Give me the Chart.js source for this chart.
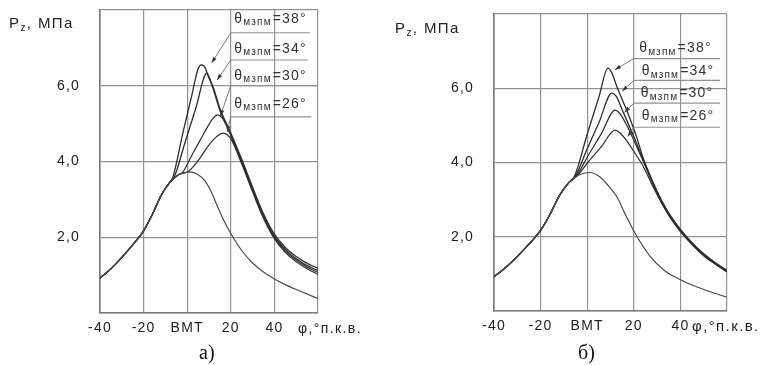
<!DOCTYPE html>
<html><head><meta charset="utf-8">
<script src="https://cdn.jsdelivr.net/npm/chart.js@4.4.1/dist/chart.umd.min.js"></script>
<style>
html,body{margin:0;padding:0;background:#fff;}
#wrap{position:relative;width:777px;height:365px;overflow:hidden;background:#fff;}
canvas{position:absolute;top:0;}
.cap{position:absolute;font-family:"Liberation Serif","Times New Roman",serif;font-size:20px;line-height:20px;color:#111;}
</style></head><body>
<div id="wrap">
<canvas id="ca" width="390" height="365" style="left:0"></canvas>
<canvas id="cb" width="387" height="365" style="left:390px"></canvas>
<div class="cap" style="left:199px;top:342px">а)</div>
<div class="cap" style="left:578px;top:342px">б)</div>
</div>
<script>
// ---- axes / labels ----
const xTicks = [-40, -20, 0, 20, 40, 60];
const xTickLabels = ['-40', '-20', 'ВМТ', '20', '40', ''];
const yTicks = [2, 4, 6];
const yTickLabels = ['2,0', '4,0', '6,0'];
const yTitleMain = 'P';
const yTitleSub = 'z';
const yTitleRest = ', МПа';
const xTitle = 'φ,°п.к.в.';
const seriesNames = ['38°', '34°', '30°', '26°'];
const thetaSub = 'мзпм';

// ---- chart а) ----
const aMotorPhi = [-40, -35, -30, -25, -20, -16, -12, -8, -4, 0, 2, 5, 8, 11, 14, 17, 20, 25, 30, 35, 40, 45, 50, 55, 60];
const aMotorP   = [0.92, 1.17, 1.47, 1.8, 2.17, 2.6, 3.1, 3.45, 3.65, 3.72, 3.72, 3.65, 3.5, 3.2, 2.8, 2.42, 2.1, 1.65, 1.32, 1.08, 0.9, 0.75, 0.62, 0.5, 0.38];

const a38Phi = [-40, -35, -30, -25, -20, -16, -12, -8, -6.5, -2, 2, 5, 6.5, 8, 10, 12, 15, 20, 25, 30, 35, 40, 45, 50, 55, 60];
const a38P   = [0.92, 1.17, 1.47, 1.8, 2.17, 2.6, 3.1, 3.45, 3.6, 4.75, 5.72, 6.45, 6.55, 6.5, 6.2, 5.95, 5.4, 4.75, 4.06, 3.32, 2.62, 2.08, 1.73, 1.49, 1.31, 1.18];

const a34Phi = [-40, -35, -30, -25, -20, -16, -12, -8, -6, -1, 4, 9, 12, 15, 20, 25, 30, 35, 40, 45, 50, 55, 60];
const a34P   = [0.92, 1.17, 1.47, 1.8, 2.17, 2.6, 3.1, 3.45, 3.58, 4.5, 5.42, 6.33, 5.9, 5.35, 4.7, 4.02, 3.28, 2.57, 2.03, 1.68, 1.43, 1.25, 1.12];

const a30Phi = [-40, -35, -30, -25, -20, -16, -12, -8, -4, -2, 2, 6, 10, 12, 14, 16, 18.7, 21, 25, 30, 35, 40, 45, 50, 55, 60];
const a30P   = [0.92, 1.17, 1.47, 1.8, 2.17, 2.6, 3.1, 3.45, 3.65, 3.72, 4.15, 4.57, 4.98, 5.15, 5.23, 5.15, 4.88, 4.55, 3.98, 3.24, 2.53, 1.99, 1.64, 1.39, 1.21, 1.07];

const a26Phi = [-40, -35, -30, -25, -20, -16, -12, -8, -4, 0, 3, 6, 9.5, 13, 16.4, 18.5, 20.5, 25, 30, 35, 40, 45, 50, 55, 60];
const a26P   = [0.92, 1.17, 1.47, 1.8, 2.17, 2.6, 3.1, 3.45, 3.65, 3.72, 3.88, 4.1, 4.4, 4.63, 4.75, 4.7, 4.55, 3.94, 3.2, 2.5, 1.96, 1.6, 1.35, 1.17, 1.02];

// ---- chart б) ----
const bMotorPhi = [-40, -35, -30, -25, -20, -16, -12, -8, -4, 1, 5.5, 9, 12.8, 16, 20.5, 27, 33, 39.8, 45, 50, 55, 60];
const bMotorP   = [0.92, 1.17, 1.47, 1.8, 2.17, 2.6, 3.1, 3.45, 3.65, 3.73, 3.61, 3.38, 3.07, 2.65, 2.1, 1.47, 1.1, 0.85, 0.7, 0.58, 0.47, 0.37];

const b38Phi = [-40, -35, -30, -25, -20, -16, -12, -8, -5.5, 0, 5, 8.9, 10.5, 13, 17, 21.4, 24, 28, 32, 36, 40, 45, 50, 55, 60];
const b38P   = [0.92, 1.17, 1.47, 1.8, 2.17, 2.6, 3.1, 3.45, 3.62, 4.76, 5.76, 6.54, 6.42, 6.0, 5.4, 4.65, 4.12, 3.5, 2.97, 2.54, 2.2, 1.84, 1.54, 1.3, 1.1];

const b34Phi = [-40, -35, -30, -25, -20, -16, -12, -8, -5, 0, 5, 10.6, 12.5, 15, 20, 24, 28, 32, 36, 40, 45, 50, 55, 60];
const b34P   = [0.92, 1.17, 1.47, 1.8, 2.17, 2.6, 3.1, 3.45, 3.64, 4.37, 5.07, 5.87, 5.78, 5.42, 4.7, 4.08, 3.48, 2.95, 2.52, 2.18, 1.82, 1.52, 1.28, 1.08];

const b30Phi = [-40, -35, -30, -25, -20, -16, -12, -8, -4.5, 0, 6, 12, 14, 17, 20, 24, 28, 32, 36, 40, 45, 50, 55, 60];
const b30P   = [0.92, 1.17, 1.47, 1.8, 2.17, 2.6, 3.1, 3.45, 3.65, 4.14, 4.77, 5.41, 5.32, 5.0, 4.6, 4.04, 3.45, 2.93, 2.5, 2.16, 1.8, 1.5, 1.27, 1.06];

const b26Phi = [-40, -35, -30, -25, -20, -16, -12, -8, -4, 0, 6, 12, 14, 17, 20, 24, 28, 32, 36, 40, 45, 50, 55, 60];
const b26P   = [0.92, 1.17, 1.47, 1.8, 2.17, 2.6, 3.1, 3.45, 3.66, 3.98, 4.42, 4.87, 4.8, 4.58, 4.3, 3.9, 3.38, 2.9, 2.48, 2.14, 1.79, 1.49, 1.26, 1.05];

// ---- callout annotations (data units) ----
const aCallouts = [
  {name: seriesNames[0], textX: 21.6, textY: 7.79, lineY: 7.4,  lineX2: 56.3, tipX: 11.2, tipY: 6.6},
  {name: seriesNames[1], textX: 21.6, textY: 7.0,  lineY: 6.68, lineX2: 55.5, tipX: 13.7, tipY: 6.15},
  {name: seriesNames[2], textX: 21.6, textY: 6.29, lineY: 6.0,  lineX2: 60,   tipX: 15.2, tipY: 5.2},
  {name: seriesNames[3], textX: 21.6, textY: 5.55, lineY: 5.18, lineX2: 57,   tipX: 18.3, tipY: 4.78}
];
const bCallouts = [
  {name: seriesNames[0], textX: 22.3, textY: 7.1,  lineY: 6.8,  lineX2: 57, tipX: 11.9, tipY: 6.5},
  {name: seriesNames[1], textX: 23.4, textY: 6.48, lineY: 6.21, lineX2: 57, tipX: 15.0, tipY: 5.92},
  {name: seriesNames[2], textX: 23.0, textY: 5.89, lineY: 5.6,  lineX2: 57, tipX: 16.0, tipY: 5.35},
  {name: seriesNames[3], textX: 23.4, textY: 5.28, lineY: 4.95, lineX2: 57, tipX: 17.4, tipY: 4.7}
];

const FONT = '"Liberation Sans", Arial, Helvetica, sans-serif';
const gridColor = '#939393';
const curveColor = '#2e2e2e';
const textColor = '#222';

function ds(phi, p, color, width) {
  return {
    data: phi.map((x, i) => ({x: x, y: p[i]})),
    borderColor: color, borderWidth: width, pointRadius: 0, fill: false,
    cubicInterpolationMode: 'monotone'
  };
}

const extrasPlugin = {
  id: 'extras',
  beforeDraw(chart) { chart.ctx.letterSpacing = '1.2px'; },
  afterDatasetsDraw(chart, args, o) {
    const ctx = chart.ctx, xs = chart.scales.x, ys = chart.scales.y;
    ctx.save();
    o.items.forEach(it => {
      const x0 = xs.getPixelForValue(20), y0 = ys.getPixelForValue(it.lineY);
      const x1 = xs.getPixelForValue(it.lineX2);
      ctx.strokeStyle = gridColor; ctx.lineWidth = 1.2;
      ctx.beginPath(); ctx.moveTo(x0, y0); ctx.lineTo(x1, y0); ctx.stroke();
      const tx = xs.getPixelForValue(it.tipX), ty = ys.getPixelForValue(it.tipY);
      ctx.strokeStyle = '#6a6a6a'; ctx.lineWidth = 0.9;
      ctx.beginPath(); ctx.moveTo(x0, y0); ctx.lineTo(tx, ty); ctx.stroke();
      const ang = Math.atan2(ty - y0, tx - x0);
      ctx.fillStyle = '#333';
      ctx.beginPath();
      ctx.moveTo(tx, ty);
      ctx.lineTo(tx - 6 * Math.cos(ang) + 2 * Math.sin(ang), ty - 6 * Math.sin(ang) - 2 * Math.cos(ang));
      ctx.lineTo(tx - 6 * Math.cos(ang) - 2 * Math.sin(ang), ty - 6 * Math.sin(ang) + 2 * Math.cos(ang));
      ctx.closePath(); ctx.fill();
      let px = xs.getPixelForValue(it.textX);
      const base = ys.getPixelForValue(it.textY) + 5;
      ctx.fillStyle = '#333';
      ctx.letterSpacing = '1.2px';
      ctx.font = '14px ' + FONT;
      ctx.fillText('θ', px, base); px += ctx.measureText('θ').width;
      ctx.font = '10px ' + FONT;
      ctx.fillText(thetaSub, px, base + 2.5); px += ctx.measureText(thetaSub).width + 1;
      ctx.font = '14px ' + FONT;
      ctx.fillText('=' + it.name, px, base);
    });
    // axis titles
    ctx.fillStyle = textColor;
    ctx.letterSpacing = '1.4px';
    let px = o.yTitle.x;
    ctx.font = '15px ' + FONT;
    ctx.fillText(yTitleMain, px, o.yTitle.y); px += ctx.measureText(yTitleMain).width;
    ctx.font = '10px ' + FONT;
    ctx.fillText(yTitleSub, px, o.yTitle.y + 3); px += ctx.measureText(yTitleSub).width;
    ctx.font = '15px ' + FONT;
    ctx.fillText(yTitleRest, px, o.yTitle.y);
    ctx.font = o.xTitle.size + 'px ' + FONT;
    ctx.fillText(xTitle, o.xTitle.x, o.xTitle.y);
    ctx.restore();
  }
};

function makeChart(id, series, callouts, area, yTitle, xTitlePos) {
  const H = 365;
  const chart = new Chart(document.getElementById(id), {
    type: 'line',
    data: {datasets: series},
    plugins: [extrasPlugin],
    options: {
      responsive: false, animation: false, events: [],
      layout: {padding: {left: 0, right: 50, top: area.top, bottom: 0}},
      plugins: {
        legend: {display: false}, tooltip: {enabled: false},
        extras: {items: callouts, yTitle: yTitle, xTitle: xTitlePos}
      },
      scales: {
        x: {
          type: 'linear', min: -40, max: 60,
          afterFit(s) { s.height = H - area.bottom; s.paddingLeft = 0; s.paddingRight = 0; },
          ticks: {
            stepSize: 20, padding: 7, autoSkip: false, maxRotation: 0, color: textColor,
            font: {family: FONT, size: 14},
            callback: v => { const i = xTicks.indexOf(v); return i >= 0 ? xTickLabels[i] : ''; }
          },
          grid: {color: gridColor, lineWidth: 1.2, drawTicks: false},
          border: {color: '#7a7a7a', width: 1.6}
        },
        y: {
          type: 'linear', min: 0, max: 8,
          afterFit(s) { s.width = area.left; s.paddingTop = 0; s.paddingBottom = 0; },
          ticks: {
            stepSize: 2, padding: 20, color: textColor,
            font: {family: FONT, size: 14},
            callback: v => { const i = yTicks.indexOf(v); return i >= 0 ? yTickLabels[i] : ''; }
          },
          grid: {color: gridColor, lineWidth: 1.2, drawTicks: false},
          border: {color: '#7a7a7a', width: 1.6}
        }
      }
    }
  });
  // nudge the layout padding so the plot area lands where the reference has it
  for (let k = 0; k < 3; k++) {
    const a = chart.chartArea, p = chart.options.layout.padding;
    p.top += area.top - a.top;
    p.bottom += a.bottom - area.bottom;
    p.left += area.left - a.left;
    p.right += a.right - area.right;
    chart.update();
  }
  return chart;
}

makeChart('ca', [
  ds(aMotorPhi, aMotorP, '#4a4a4a', 1.2),
  ds(a26Phi, a26P, curveColor, 1.2),
  ds(a30Phi, a30P, curveColor, 1.2),
  ds(a34Phi, a34P, curveColor, 1.3),
  ds(a38Phi, a38P, curveColor, 1.3)
], aCallouts, {left: 100, right: 318, top: 10, bottom: 313},
  {x: 9, y: 28}, {x: 298, y: 333, size: 14});

makeChart('cb', [
  ds(bMotorPhi, bMotorP, '#4a4a4a', 1.2),
  ds(b26Phi, b26P, curveColor, 1.2),
  ds(b30Phi, b30P, curveColor, 1.2),
  ds(b34Phi, b34P, curveColor, 1.3),
  ds(b38Phi, b38P, curveColor, 1.3)
], bCallouts, {left: 104, right: 337, top: 14, bottom: 311},
  {x: 5, y: 33}, {x: 302, y: 331, size: 15});
</script>
</body></html>
